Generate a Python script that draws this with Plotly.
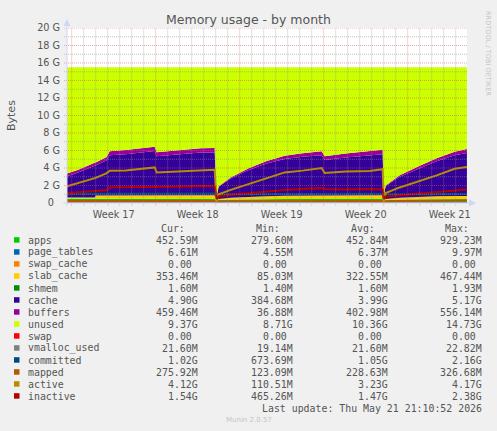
import pandas as pd
import plotly.graph_objects as go

# munin "memory" plugin, month view (values in GiB)
times = [
    "2026-04-18 14:40", "2026-04-19 12:00", "2026-04-20 22:00", "2026-04-21 00:00",
    "2026-04-21 22:00", "2026-04-22 04:00", "2026-04-23 12:00", "2026-04-25 22:00",
    "2026-04-26 02:00", "2026-04-27 18:00", "2026-04-29 18:00", "2026-04-30 22:00",
    "2026-05-01 02:00", "2026-05-01 06:00", "2026-05-02 06:00", "2026-05-03 18:00",
    "2026-05-05 06:00", "2026-05-06 18:00", "2026-05-08 06:00", "2026-05-09 20:00",
    "2026-05-10 02:00", "2026-05-11 20:00", "2026-05-13 20:00", "2026-05-14 22:00",
    "2026-05-15 00:00", "2026-05-15 04:00", "2026-05-16 08:00", "2026-05-17 22:00",
    "2026-05-19 10:00", "2026-05-20 22:00", "2026-05-21 22:30",
]

apps = [0.47, 0.47, 0.46, 0.46, 0.46, 0.45, 0.45, 0.46, 0.45, 0.45, 0.45, 0.45,
        0.28, 0.33, 0.38, 0.42, 0.44, 0.45, 0.45, 0.46, 0.45, 0.45, 0.46, 0.46,
        0.28, 0.32, 0.38, 0.42, 0.44, 0.44, 0.44]
page_tables = [0.0062, 0.0062, 0.0063, 0.0063, 0.0064, 0.0064, 0.0064, 0.0065, 0.0064, 0.0064, 0.0065, 0.0065,
               0.0045, 0.0052, 0.0058, 0.0061, 0.0063, 0.0064, 0.0064, 0.0065, 0.0064, 0.0064, 0.0065, 0.0065,
               0.0045, 0.0053, 0.0059, 0.0062, 0.0064, 0.0065, 0.0065]
swap_cache = [0, 0, 0, 0, 0, 0, 0, 0, 0, 0, 0, 0,
              0, 0, 0, 0, 0, 0, 0, 0, 0, 0, 0, 0,
              0, 0, 0, 0, 0, 0, 0]
slab_cache = [0.15, 0.15, 0.16, 0.38, 0.38, 0.39, 0.40, 0.42, 0.40, 0.40, 0.41, 0.42,
              0.083, 0.12, 0.20, 0.28, 0.33, 0.36, 0.38, 0.40, 0.38, 0.38, 0.40, 0.41,
              0.09, 0.14, 0.22, 0.28, 0.32, 0.34, 0.35]
shmem = [0.0016, 0.0016, 0.0016, 0.0016, 0.0016, 0.0016, 0.0016, 0.0016, 0.0016, 0.0016, 0.0016, 0.0016,
         0.0014, 0.0015, 0.0016, 0.0016, 0.0016, 0.0016, 0.0016, 0.0016, 0.0016, 0.0016, 0.0016, 0.0016,
         0.0014, 0.0015, 0.0016, 0.0016, 0.0016, 0.0016, 0.0016]
cache = [2.43, 2.83, 3.63, 3.43, 4.04, 4.61, 4.72, 5.05, 4.48, 4.67, 4.89, 4.89,
         0.38, 1.39, 2.20, 3.05, 3.73, 4.22, 4.45, 4.59, 4.08, 4.37, 4.54, 4.70,
         0.40, 1.46, 2.39, 3.25, 4.01, 4.66, 4.91]
buffers = [0.30, 0.32, 0.35, 0.36, 0.38, 0.45, 0.48, 0.50, 0.45, 0.48, 0.50, 0.52,
           0.037, 0.06, 0.12, 0.20, 0.28, 0.35, 0.40, 0.45, 0.42, 0.45, 0.50, 0.52,
           0.04, 0.08, 0.16, 0.25, 0.33, 0.41, 0.45]
swap = [0, 0, 0, 0, 0, 0, 0, 0, 0, 0, 0, 0,
        0, 0, 0, 0, 0, 0, 0, 0, 0, 0, 0, 0,
        0, 0, 0, 0, 0, 0, 0]
mem_total = 15.51  # top edge of the stack (unused = what is left)

vmalloc_used = [0.021, 0.021, 0.021, 0.021, 0.021, 0.021, 0.021, 0.021, 0.021, 0.021, 0.021, 0.021,
                0.019, 0.020, 0.021, 0.021, 0.021, 0.021, 0.021, 0.021, 0.021, 0.021, 0.021, 0.021,
                0.019, 0.020, 0.021, 0.021, 0.021, 0.021, 0.021]
committed = [1.06, 1.06, 1.07, 1.07, 1.08, 1.06, 1.05, 1.06, 1.05, 1.06, 1.07, 1.08,
             0.68, 0.95, 1.00, 1.02, 1.03, 1.05, 1.06, 1.06, 1.05, 1.06, 1.07, 1.07,
             0.67, 0.96, 1.00, 1.01, 1.02, 1.02, 1.02]
mapped = [0.22, 0.22, 0.23, 0.23, 0.23, 0.23, 0.23, 0.24, 0.23, 0.23, 0.24, 0.24,
          0.13, 0.18, 0.20, 0.21, 0.22, 0.22, 0.23, 0.23, 0.23, 0.23, 0.24, 0.24,
          0.12, 0.20, 0.23, 0.25, 0.26, 0.27, 0.28]
active = [1.90, 2.25, 2.85, 2.87, 3.40, 3.70, 3.72, 4.07, 3.50, 3.60, 3.78, 3.80,
          0.11, 1.00, 1.50, 2.17, 2.80, 3.50, 3.70, 4.00, 3.43, 3.60, 3.65, 3.86,
          0.12, 1.14, 1.78, 2.47, 3.16, 3.92, 4.12]
inactive = [1.14, 1.20, 1.33, 1.33, 1.45, 1.79, 1.80, 1.85, 1.80, 1.85, 1.95, 1.90,
            0.47, 0.75, 0.95, 1.15, 1.30, 1.50, 1.60, 1.70, 1.60, 1.55, 1.60, 1.55,
            0.47, 0.75, 0.90, 1.10, 1.25, 1.45, 1.54]

week_ticks = ["2026-04-22 12:00", "2026-04-29 12:00", "2026-05-06 12:00",
              "2026-05-13 12:00", "2026-05-20 12:00"]
week_labels = ["Week 17", "Week 18", "Week 19", "Week 20", "Week 21"]
y_ticks = [0, 2, 4, 6, 8, 10, 12, 14, 16, 18, 20]
y_labels = ["0\u00a0\u00a0", "2 G", "4 G", "6 G", "8 G", "10 G", "12 G",
            "14 G", "16 G", "18 G", "20 G"]

# legend table (as printed by munin)
names = ["apps", "page_tables", "swap_cache", "slab_cache", "shmem", "cache", "buffers",
         "unused", "swap", "vmalloc_used", "committed", "mapped", "active", "inactive"]
colors = ["#00CC00", "#0066B3", "#FF8000", "#FFCC00", "#008F00", "#330099", "#990099",
          "#CCFF00", "#FF0000", "#808080", "#00487D", "#B35A00", "#B38F00", "#B30000"]
cur_txt = ["452.59M", "6.61M", "0.00", "353.46M", "1.60M", "4.90G", "459.46M",
           "9.37G", "0.00", "21.60M", "1.02G", "275.92M", "4.12G", "1.54G"]
min_txt = ["279.60M", "4.55M", "0.00", "85.03M", "1.40M", "384.68M", "36.88M",
           "8.71G", "0.00", "19.14M", "673.69M", "123.09M", "110.51M", "465.26M"]
avg_txt = ["452.84M", "6.37M", "0.00", "322.55M", "1.60M", "3.99G", "402.98M",
           "10.36G", "0.00", "21.60M", "1.05G", "228.63M", "3.23G", "1.47G"]
max_txt = ["929.23M", "9.97M", "0.00", "467.44M", "1.93M", "5.17G", "556.14M",
           "14.73G", "0.00", "22.82M", "2.16G", "326.68M", "4.17G", "2.38G"]

x = pd.to_datetime(times)
stacked = [apps, page_tables, swap_cache, slab_cache, shmem, cache, buffers]
used = [sum(v) for v in zip(*stacked)]
unused = [round(mem_total - u, 3) for u in used]

area_series = stacked + [unused, swap]
line_series = [vmalloc_used, committed, mapped, active, inactive]

FONT = "DejaVu Sans"
MONO = "DejaVu Sans Mono"
TXT = "#555555"
GRID_MAJOR = "rgba(222,79,79,0.5)"
GRID_MINOR = "rgba(143,143,143,0.55)"

fig = go.Figure()
for name, col, vals in zip(names[:9], colors[:9], area_series):
    fig.add_trace(go.Scatter(x=x, y=vals, name=name, mode="lines", stackgroup="mem",
                             line=dict(width=0, color=col), fillcolor=col))
for name, col, vals in zip(names[9:], colors[9:], line_series):
    fig.add_trace(go.Scatter(x=x, y=vals, name=name, mode="lines",
                             line=dict(width=2, color=col)))

# plot area in pixels: x 67..467, y 28..203
def px(v):
    return (v - 67) / 400.0

def py(v):
    return (203 - v) / 175.0

shapes = []
# rrdtool style dotted grid drawn over the areas
for g in range(1, 21):
    major = g % 2 == 0
    shapes.append(dict(type="line", xref="paper", yref="y", x0=px(64), x1=1, y0=g, y1=g,
                       layer="above",
                       line=dict(width=1, dash="1px,1px", color=GRID_MAJOR if major else GRID_MINOR)))
for d in pd.date_range("2026-04-19", "2026-05-21", freq="D"):
    major = d.weekday() == 6
    shapes.append(dict(type="line", xref="x", yref="paper", x0=d, x1=d, y0=py(205.5), y1=1,
                       layer="above",
                       line=dict(width=1, dash="1px,1px", color=GRID_MAJOR if major else GRID_MINOR)))
# axes with arrows
axis_col = "#CFD6F8"
shapes.append(dict(type="line", xref="paper", yref="paper", x0=0, x1=0, y0=py(206), y1=py(24),
                   layer="above", line=dict(width=1, color=axis_col)))
shapes.append(dict(type="line", xref="paper", yref="paper", x0=px(63), x1=px(470), y0=0, y1=0,
                   layer="above", line=dict(width=1, color=axis_col)))
shapes.append(dict(type="path", xref="paper", yref="paper", layer="above",
                   path=f"M {px(67)},{py(19)} L {px(63.5)},{py(26)} L {px(70.5)},{py(26)} Z",
                   fillcolor=axis_col, line=dict(width=0)))
shapes.append(dict(type="path", xref="paper", yref="paper", layer="above",
                   path=f"M {px(476)},{py(203)} L {px(469)},{py(199.5)} L {px(469)},{py(206.5)} Z",
                   fillcolor=axis_col, line=dict(width=0)))

annotations = []

def label(text, xp, yp, anchor, size=9.9, family=MONO, color=TXT, angle=0):
    annotations.append(dict(text=text, xref="paper", yref="paper", x=px(xp), y=py(yp),
                            xanchor=anchor, yanchor="middle", showarrow=False, borderpad=0,
                            textangle=angle, font=dict(family=family, size=size, color=color)))

for head, xe in zip(["Cur:", "Min:", "Avg:", "Max:"], [186, 281, 376, 470]):
    label(head, xe, 228, "right")
for i, name in enumerate(names):
    yc = 240 + 12 * i
    shapes.append(dict(type="rect", xref="paper", yref="paper", x0=px(14), x1=px(19.5),
                       y0=py(yc + 2.7), y1=py(yc - 2.8), fillcolor=colors[i],
                       line=dict(width=0)))
    label(name, 26.5, yc, "left")
    for txt, xe in zip([cur_txt[i], min_txt[i], avg_txt[i], max_txt[i]], [199, 294, 388.5, 483]):
        if txt[-1].isdigit():
            txt = txt + "\u00a0"
        label(txt, xe, yc, "right")
label("Last update: Thu May 21 21:10:52 2026", 483, 408, "right")
label("Munin 2.0.57", 248.5, 420, "center", size=7, family=FONT, color="#C4C4C4")
label("RRDTOOL / TOBI OETIKER", 488, 53, "center", size=6.6, family=FONT, color="#C4C4C4", angle=90)
label("Bytes", 11, 115, "center", size=11, family=FONT, angle=-90)

fig.update_layout(
    width=497, height=431,
    margin=dict(l=67, r=30, t=28, b=228),
    paper_bgcolor="#F0F0F0", plot_bgcolor="#FFFFFF",
    showlegend=False,
    font=dict(family=FONT, color=TXT),
    title=dict(text="Memory usage - by month", x=0.5, xanchor="center",
               y=1 - 19.5 / 431, yanchor="middle",
               font=dict(family=FONT, size=12.5, color=TXT)),
    xaxis=dict(type="date", range=["2026-04-18 14:40", "2026-05-21 22:40"],
               tickmode="array", tickvals=week_ticks, ticktext=week_labels,
               showgrid=False, zeroline=False, showline=False,
               ticks="outside", ticklen=2, tickcolor="rgba(0,0,0,0)",
               tickfont=dict(family=FONT, size=9.7, color=TXT)),
    yaxis=dict(range=[0, 20], tickmode="array", tickvals=y_ticks, ticktext=y_labels,
               showgrid=False, zeroline=False, showline=False,
               ticks="outside", ticklen=4, tickcolor="rgba(0,0,0,0)",
               tickfont=dict(family=FONT, size=9.7, color=TXT)),
    shapes=shapes,
    annotations=annotations,
)

# the page's default 8px body margin would shift the whole chart
fig.write_html("out.html", config={"displayModeBar": False},
               post_script="document.body.style.margin='0';")
